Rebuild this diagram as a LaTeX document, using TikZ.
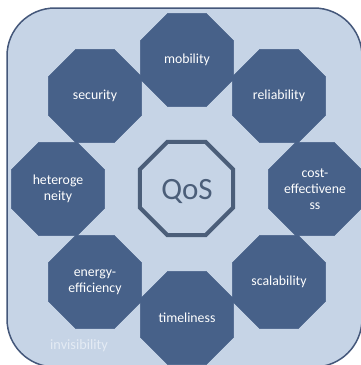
\documentclass[tikz,border=0pt]{standalone}
\usepackage{fontspec}
\setmainfont{Carlito}
\usetikzlibrary{shapes.geometric}
\definecolor{bgblue}{HTML}{C6D4E6}
\definecolor{octblue}{HTML}{476189}
\definecolor{edgeblue}{HTML}{44577A}
\definecolor{qosblue}{HTML}{4B5E79}
\definecolor{faint}{HTML}{E4EBF4}
\tikzset{
  oct/.style={regular polygon, regular polygon sides=8, minimum size=100.7pt,
    inner sep=0pt, fill=octblue, draw=octblue, line width=0.5pt,
    text=white, align=center, font=\fontsize{13.8}{16}\selectfont},
  qosoct/.style={regular polygon, regular polygon sides=8, minimum size=100.7pt,
    inner sep=0pt, fill=bgblue, draw=qosblue, line width=4pt},
  frame/.style={fill=bgblue, draw=edgeblue, line width=1.5pt, rounded corners=48pt}
}
\begin{document}
\begin{tikzpicture}[x=1pt,y=-1pt]
\useasboundingbox (0,0) rectangle (361,365);
\path[frame] (7,8) rectangle (362,367);
\node[oct] (mob) at (187,60) {mobility};
\node[oct] (sec) at (95,96) {security};
\node[oct] (rel) at (279,96) {reliability};
\node[oct] (het) at (58,189) {heteroge\\neity};
\node[oct] (cost) at (315,189) {cost-\\effectivene\\ss};
\node[oct] (ene) at (95,282) {energy-\\efficiency};
\node[oct] (sca) at (279,282) {scalability};
\node[oct] (tim) at (187,318) {timeliness};
\node[qosoct] (qos) at (186.5,188.5) {};
\node[text=qosblue, inner sep=0pt, font=\fontsize{31}{36}\selectfont] (qostext) at (187,191) {QoS};
\node[anchor=west, inner sep=0pt, text=faint, font=\fontsize{14.3}{16}\selectfont] (inv) at (50,346) {invisibility};
\end{tikzpicture}
\end{document}
